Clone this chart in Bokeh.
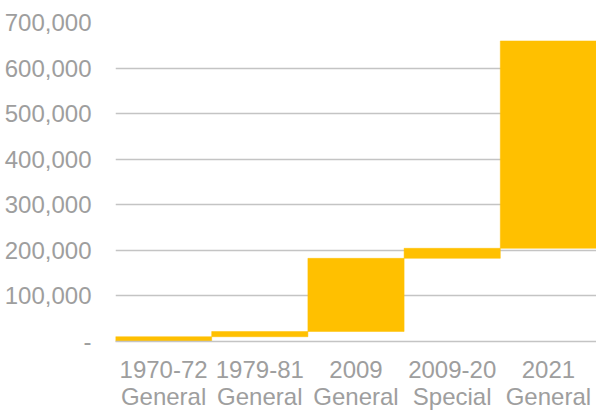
from bokeh.plotting import figure
from bokeh.models import FactorRange, Range1d, NumeralTickFormatter, FixedTicker, ColumnDataSource
from bokeh.embed import file_html
from bokeh.resources import INLINE

categories = ["1970-72\nGeneral", "1979-81\nGeneral", "2009\nGeneral", "2009-20\nSpecial", "2021\nGeneral"]
increments = [10500, 11500, 160500, 22000, 455000]
y_ticks = [0, 100000, 200000, 300000, 400000, 500000, 600000, 700000]

tops, bottoms = [], []
run = 0
for v in increments:
    bottoms.append(run)
    run += v
    tops.append(run)

src = ColumnDataSource(dict(cat=categories, bottom=bottoms, top=tops))

p = figure(width=596, height=412, output_backend="svg", toolbar_location=None,
           x_range=FactorRange(*categories, range_padding=0),
           y_range=Range1d(0, 700000),
           min_border_left=115, min_border_right=0, min_border_top=22, min_border_bottom=0)
p.outline_line_color = None
p.background_fill_color = "white"
p.border_fill_color = "white"

p.vbar(x="cat", bottom="bottom", top="top", width=1.0, source=src,
       fill_color="#FFC000", line_color="#FFC000", line_width=0.5)

label_color = "#9e9e9e"
grid_color = "#c4c4c4"

p.yaxis.ticker = FixedTicker(ticks=y_ticks)
p.yaxis.formatter = NumeralTickFormatter(format="0,0")
p.yaxis.major_label_overrides = {0: "-"}
p.yaxis.axis_line_color = None
p.yaxis.major_tick_line_color = None
p.yaxis.minor_tick_line_color = None
p.yaxis.major_label_text_font = "Liberation Sans"
p.yaxis.major_label_text_font_size = "24px"
p.yaxis.major_label_text_color = label_color
p.yaxis.major_label_standoff = 18

p.xaxis.axis_line_color = grid_color
p.xaxis.axis_line_width = 1.5
p.xaxis.major_tick_line_color = None
p.xaxis.minor_tick_line_color = None
p.xaxis.major_label_text_font = "Liberation Sans"
p.xaxis.major_label_text_font_size = "24px"
p.xaxis.major_label_text_color = label_color
p.xaxis.major_label_standoff = 8
p.xaxis.major_label_text_line_height = 1.0

p.xgrid.grid_line_color = None
p.ygrid.grid_line_color = grid_color
p.ygrid.grid_line_width = 1.5
p.ygrid.level = "underlay"

open("out.html", "w").write(file_html(p, INLINE))
